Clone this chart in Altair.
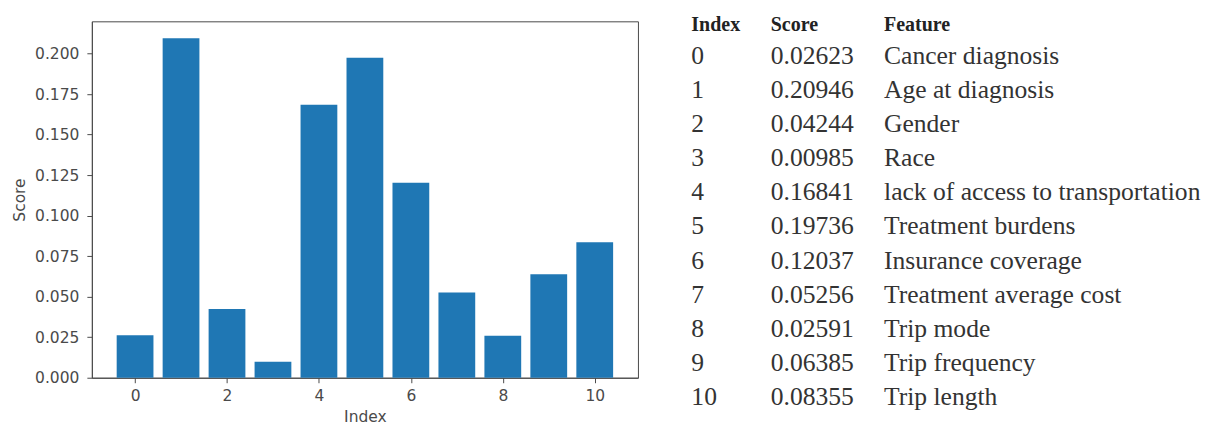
import altair as alt
import pandas as pd

# ---- data ----
indices = [0, 1, 2, 3, 4, 5, 6, 7, 8, 9, 10]
scores = [0.02623, 0.20946, 0.04244, 0.00985, 0.16841, 0.19736,
          0.12037, 0.05256, 0.02591, 0.06385, 0.08355]
features = ["Cancer diagnosis", "Age at diagnosis", "Gender", "Race",
            "lack of access to transportation", "Treatment burdens",
            "Insurance coverage", "Treatment average cost", "Trip mode",
            "Trip frequency", "Trip length"]
headers = ["Index", "Score", "Feature"]
x_ticks = [0, 2, 4, 6, 8, 10]
y_ticks = [0.0, 0.025, 0.05, 0.075, 0.1, 0.125, 0.15, 0.175, 0.2]

df = pd.DataFrame({"Index": indices, "Score": scores, "Feature": features})

GRAY = "#4a4a4a"
SANS = "DejaVu Sans"
SERIF = "Liberation Serif"

bars = alt.Chart(df).transform_calculate(
    x0="datum.Index - 0.4", x1="datum.Index + 0.4"
).mark_bar(color="#1f77b4").encode(
    x=alt.X("x0:Q", title="Index",
            scale=alt.Scale(domain=[-0.94, 10.94], nice=False, zero=False),
            axis=alt.Axis(values=x_ticks, format="d", grid=False, tickSize=5,
                          labelPadding=6, titlePadding=5)),
    x2="x1:Q",
    y=alt.Y("Score:Q", title="Score",
            scale=alt.Scale(domain=[0, 0.2199], nice=False),
            axis=alt.Axis(values=y_ticks, format=".3f", grid=False, tickSize=5,
                          labelPadding=8, titlePadding=7)),
    y2=alt.datum(0),
).properties(width=547, height=357)

# ---- table as text ----
cells = []
for i, s, f in zip(indices, scores, features):
    cells.append({"Row": i, "Column": "Index", "Text": str(i)})
    cells.append({"Row": i, "Column": "Score", "Text": f"{s:.5f}"})
    cells.append({"Row": i, "Column": "Feature", "Text": f})
cells_df = pd.DataFrame(cells)
head_df = pd.DataFrame({"Column": headers, "Text": headers})

col_px = {"Index": 43.5, "Score": 123, "Feature": 236.5}

layers = []
for name in headers:
    layers.append(
        alt.Chart(head_df).transform_filter(alt.datum.Column == name).mark_text(
            align="left", baseline="alphabetic", font=SERIF, fontSize=20,
            fontWeight="bold", color="#222222"
        ).encode(x=alt.value(col_px[name]), y=alt.value(9.8), text="Text:N")
    )
    layers.append(
        alt.Chart(cells_df).transform_filter(alt.datum.Column == name).mark_text(
            align="left", baseline="alphabetic", font=SERIF, fontSize=25.6,
            color="#333333"
        ).encode(
            x=alt.value(col_px[name]),
            y=alt.Y("Row:Q", scale=alt.Scale(domain=[0, 10], range=[42.6, 384.3]), axis=None),
            text="Text:N",
        )
    )

table = alt.layer(*layers).properties(
    width=500, height=357, view=alt.ViewBackground(stroke="transparent")
)

chart = alt.hconcat(bars, table, spacing=10, bounds="flush").properties(
    padding={"left": 4, "top": 6, "right": 0, "bottom": 0}
).configure_view(
    stroke=GRAY, strokeWidth=1
).configure_axis(
    labelFont=SANS, labelFontSize=15.5, labelColor=GRAY,
    titleFont=SANS, titleFontSize=15.5, titleColor=GRAY, titleFontWeight="normal",
    domainColor=GRAY, tickColor=GRAY,
).resolve_scale(x="independent", y="independent")

chart.save("out.html", embed_options={"renderer": "svg", "actions": False})
